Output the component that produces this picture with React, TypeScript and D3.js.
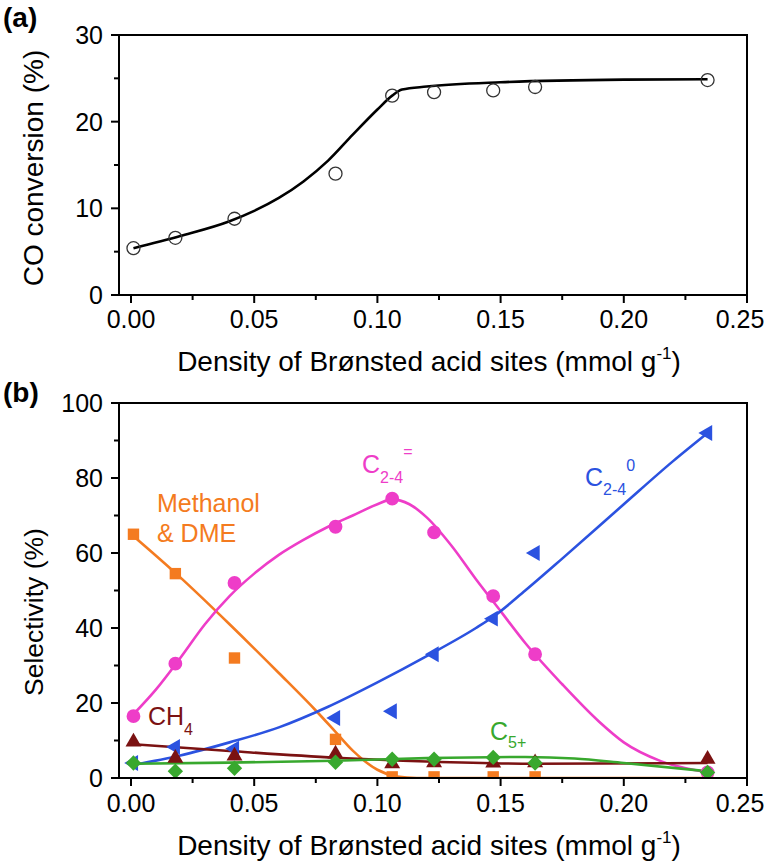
import React from 'react';
import * as d3 from 'd3';

// ---------- data ----------
const densityX = [0.001, 0.018, 0.042, 0.083, 0.106, 0.123, 0.147, 0.164, 0.234];

// (a) CO conversion (%)
const coConversion = [5.4, 6.6, 8.8, 14.0, 23.0, 23.4, 23.6, 24.0, 24.8];
const coFitX = [0.001, 0.02, 0.04, 0.05, 0.06, 0.07, 0.08, 0.09, 0.1, 0.106, 0.11, 0.12, 0.15, 0.2, 0.234];
const coFitY = [5.4, 6.8, 8.5, 9.7, 11.2, 13.1, 15.5, 18.5, 21.4, 23.0, 23.7, 24.05, 24.55, 24.85, 24.9];

// (b) Selectivity (%)
const methanolDME = [65, 54.5, 32, 10.3, 0.3, 0.3, 0.3, 0.3, 0.2];
const olefinsC24 = [16.5, 30.5, 52, 67, 74.5, 65.5, 48.5, 33, 1.5];
const paraffinsC24 = [4, 8.3, 7.8, 16, 17.8, 33, 42.5, 60, 92];
const methaneCH4 = [9.6, 5.3, 5.9, 6.4, 3.8, 4.1, 4.0, 4.1, 5.0];
const c5plus = [4, 1.8, 2.6, 4.2, 5, 5, 5.5, 4, 1.5];

const methanolFitX = [0.001, 0.02, 0.04, 0.06, 0.075, 0.083, 0.09, 0.1, 0.108, 0.116, 0.234];
const methanolFitY = [64.5, 53.5, 41, 28, 18, 12.3, 7.3, 2.2, 0.4, 0, 0];
const olefinsFitX = [0.001, 0.01, 0.02, 0.03, 0.04, 0.05, 0.06, 0.07, 0.08, 0.09, 0.1, 0.106, 0.113, 0.12, 0.13, 0.14, 0.15, 0.16, 0.175, 0.19, 0.2, 0.215, 0.234];
const olefinsFitY = [17, 23.5, 32, 41, 48.5, 54.5, 59.5, 63.5, 67, 70, 73, 74.3, 73, 69.5, 62, 53, 44.5, 36, 25, 15, 9.5, 4.5, 1.5];
const paraffinsFitX = [0.001, 0.02, 0.04, 0.06, 0.08, 0.1, 0.12, 0.14, 0.147, 0.16, 0.175, 0.2, 0.22, 0.234];
const paraffinsFitY = [3.5, 6, 9.5, 13.5, 19, 25.5, 32.5, 40, 43, 50, 58.5, 73, 84.5, 92];
const methaneFitX = [0.001, 0.04, 0.083, 0.12, 0.164, 0.234];
const methaneFitY = [9, 7.2, 5.4, 4.4, 3.8, 4.0];
const c5FitX = [0.001, 0.04, 0.083, 0.12, 0.16, 0.18, 0.2, 0.234];
const c5FitY = [3.8, 4.1, 4.6, 5.3, 5.6, 5.2, 4.0, 1.8];

const xMajorTicks = [0, 0.05, 0.1, 0.15, 0.2, 0.25];
const xMinorTicks = [0.025, 0.075, 0.125, 0.175, 0.225];
const yTopMajor = [0, 10, 20, 30];
const yTopMinor = [5, 15, 25];
const yBotMajor = [0, 20, 40, 60, 80, 100];
const yBotMinor = [10, 30, 50, 70, 90];

const FONT = 'Liberation Sans, Arial, sans-serif';
const COLORS = {
  orange: '#f47b20',
  pink: '#ee3dc8',
  blue: '#2b52e0',
  darkred: '#7b1212',
  green: '#38a82e',
};

const L = 119, R = 747;
const xScale = d3.scaleLinear().domain([0, 0.25]).range([131, 747]);

function Axes({ y, top, bottom, yMajor, yMinor }: any) {
  return (
    <g stroke="#000" strokeWidth={2} fill="none">
      <rect x={L} y={top} width={R - L} height={bottom - top} />
      {xMajorTicks.map((t) => (
        <line key={'xM' + t} x1={xScale(t)} x2={xScale(t)} y1={bottom} y2={bottom + 8} />
      ))}
      {xMinorTicks.map((t) => (
        <line key={'xm' + t} x1={xScale(t)} x2={xScale(t)} y1={bottom} y2={bottom + 5} />
      ))}
      {yMajor.map((t: number) => (
        <line key={'yM' + t} x1={L - 8} x2={L} y1={y(t)} y2={y(t)} />
      ))}
      {yMinor.map((t: number) => (
        <line key={'ym' + t} x1={L - 5} x2={L} y1={y(t)} y2={y(t)} />
      ))}
    </g>
  );
}

function TickLabels({ y, yMajor, labelBaseline }: any) {
  return (
    <g fontFamily={FONT} fontSize={25} fill="#000">
      {xMajorTicks.map((t) => (
        <text key={'xl' + t} x={xScale(t) - (t === 0.25 ? 7 : 0)} y={labelBaseline} textAnchor="middle">
          {t.toFixed(2)}
        </text>
      ))}
      {yMajor.map((t: number) => (
        <text key={'yl' + t} x={103} y={y(t) + 9} textAnchor="end">
          {t}
        </text>
      ))}
    </g>
  );
}

function XTitle({ baseline }: { baseline: number }) {
  return (
    <text x={429} y={baseline} textAnchor="middle" fontFamily={FONT} fontSize={28} fill="#000">
      Density of Brønsted acid sites (mmol g
      <tspan dy={-12} fontSize={17}>-1</tspan>
      <tspan dy={12}>)</tspan>
    </text>
  );
}

export default function App() {
  // ----- panel (a) -----
  const aTop = 35, aBottom = 295;
  const yA = d3.scaleLinear().domain([0, 30]).range([aBottom, aTop]);
  const lineA = d3
    .line<number>()
    .x((_, i) => xScale(coFitX[i]))
    .y((d) => yA(d))
    .curve(d3.curveMonotoneX);

  // ----- panel (b) -----
  const bTop = 403, bBottom = 778;
  const yB = d3.scaleLinear().domain([0, 100]).range([bBottom, bTop]);
  const mkLine = (xs: number[]) =>
    d3
      .line<number>()
      .x((_, i) => xScale(xs[i]))
      .y((d) => yB(d))
      .curve(d3.curveMonotoneX);

  const sym = (type: any, size: number) => d3.symbol().type(type).size(size)()!;
  const circlePath = sym(d3.symbolCircle, 150);
  const squarePath = sym(d3.symbolSquare, 130);
  const triPath = sym(d3.symbolTriangle, 110);
  const diamondPath = sym(d3.symbolSquare, 118);

  const fits = [
    { xs: methanolFitX, ys: methanolFitY, c: COLORS.orange },
    { xs: olefinsFitX, ys: olefinsFitY, c: COLORS.pink },
    { xs: paraffinsFitX, ys: paraffinsFitY, c: COLORS.blue },
    { xs: methaneFitX, ys: methaneFitY, c: COLORS.darkred },
    { xs: c5FitX, ys: c5FitY, c: COLORS.green },
  ];

  return (
    <svg
      width={766}
      height={862}
      style={{ position: 'absolute', left: 0, top: 0, background: '#fff' }}
    >
      <rect x={0} y={0} width={766} height={862} fill="#fff" />
      <defs>
        <clipPath id="clipB">
          <rect x={L} y={bTop} width={R - L} height={bBottom - bTop} />
        </clipPath>
      </defs>

      {/* ---------- panel (a) ---------- */}
      <text x={3} y={27} fontFamily={FONT} fontSize={28} fontWeight="bold">(a)</text>
      <path d={lineA(coFitY)!} fill="none" stroke="#000" strokeWidth={2.6} />
      {coConversion.map((v, i) => (
        <circle
          key={'a' + i}
          cx={xScale(densityX[i])}
          cy={yA(v)}
          r={6.5}
          fill="none"
          stroke="#333"
          strokeWidth={1.3}
        />
      ))}
      <Axes y={yA} top={aTop} bottom={aBottom} yMajor={yTopMajor} yMinor={yTopMinor} />
      <TickLabels y={yA} yMajor={yTopMajor} labelBaseline={328} />
      <XTitle baseline={371} />
      <text
        transform={`translate(43,${168}) rotate(-90)`}
        textAnchor="middle"
        fontFamily={FONT}
        fontSize={28}
      >
        CO conversion (%)
      </text>

      {/* ---------- panel (b) ---------- */}
      <text x={3} y={402} fontFamily={FONT} fontSize={28} fontWeight="bold">(b)</text>
      <g clipPath="url(#clipB)">
        {fits.map((f, k) => (
          <path key={'f' + k} d={mkLine(f.xs)(f.ys)!} fill="none" stroke={f.c} strokeWidth={2.6} />
        ))}
        {methanolDME.map((v, i) => (
          <path key={'o' + i} d={squarePath} fill={COLORS.orange}
            transform={`translate(${xScale(densityX[i])},${yB(v)})`} />
        ))}
        {olefinsC24.map((v, i) => (
          <path key={'p' + i} d={circlePath} fill={COLORS.pink}
            transform={`translate(${xScale(densityX[i])},${yB(v)})`} />
        ))}
        {paraffinsC24.map((v, i) => (
          <path key={'b' + i} d={triPath} fill={COLORS.blue}
            transform={`translate(${xScale(densityX[i])},${yB(v)}) rotate(-90)`} />
        ))}
        {methaneCH4.map((v, i) => (
          <path key={'r' + i} d={triPath} fill={COLORS.darkred}
            transform={`translate(${xScale(densityX[i])},${yB(v)})`} />
        ))}
        {c5plus.map((v, i) => (
          <path key={'g' + i} d={diamondPath} fill={COLORS.green}
            transform={`translate(${xScale(densityX[i])},${yB(v)}) rotate(45)`} />
        ))}
      </g>
      <Axes y={yB} top={bTop} bottom={bBottom} yMajor={yBotMajor} yMinor={yBotMinor} />
      <TickLabels y={yB} yMajor={yBotMajor} labelBaseline={812} />
      <XTitle baseline={855} />
      <text
        transform={`translate(43,${612}) rotate(-90)`}
        textAnchor="middle"
        fontFamily={FONT}
        fontSize={26.5}
      >
        Selectivity (%)
      </text>

      {/* series labels */}
      <g fontFamily={FONT}>
        <text x={157} y={512} fontSize={25} fill={COLORS.orange}>Methanol</text>
        <text x={157} y={542} fontSize={25} fill={COLORS.orange}>&amp; DME</text>
        <text x={362} y={473} fontSize={25} fill={COLORS.pink}>
          C<tspan fontSize={16} dy={10}>2-4</tspan>
          <tspan fontSize={16} dy={-26}>=</tspan>
        </text>
        <text x={585} y={486} fontSize={25} fill={COLORS.blue}>
          C<tspan fontSize={16} dy={9}>2-4</tspan>
          <tspan fontSize={16} dy={-24}>0</tspan>
        </text>
        <text x={148} y={725} fontSize={25} fill={COLORS.darkred}>
          CH<tspan fontSize={16} dy={10}>4</tspan>
        </text>
        <text x={490} y={740} fontSize={25} fill={COLORS.green}>
          C<tspan fontSize={16} dy={8}>5+</tspan>
        </text>
      </g>
    </svg>
  );
}
